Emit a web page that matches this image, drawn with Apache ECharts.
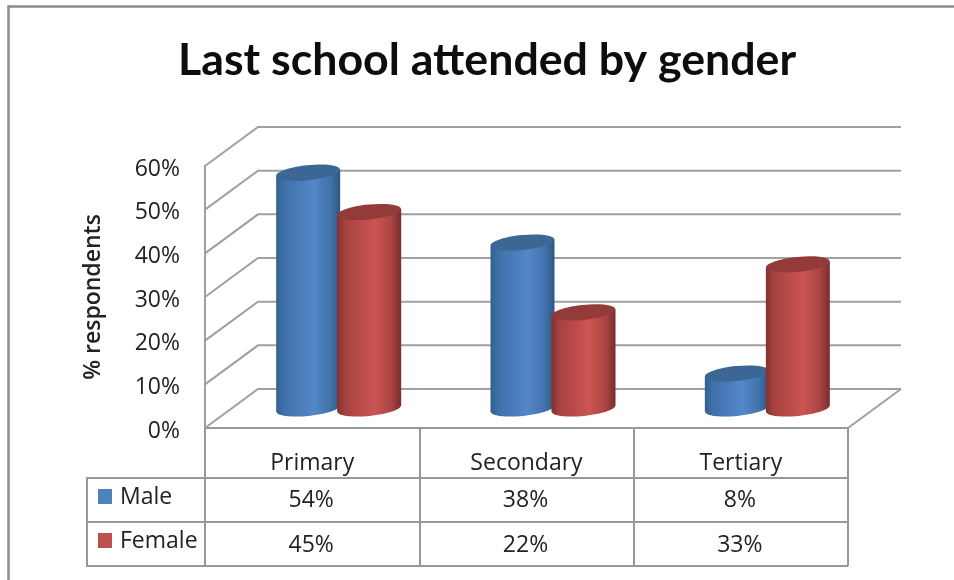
<!DOCTYPE html>
<html><head><meta charset="utf-8">
<style>html,body{margin:0;padding:0;background:#fff}#c{width:954px;height:580px}</style>
<script src="https://cdn.jsdelivr.net/npm/echarts@6/dist/echarts.min.js"></script>
</head><body><div id="c"></div>
<script>
var categories = ['Primary', 'Secondary', 'Tertiary'];
var male = [54, 38, 8];
var female = [45, 22, 33];
var yTicks = [0, 10, 20, 30, 40, 50, 60];

var chart = echarts.init(document.getElementById('c'), null, {renderer: 'canvas'});
var TITLE_FONT = 'Lato';
var FONT = 'Open Sans';
var LINE = '#a0a0a0';
var TABLE = '#989898';
var DX = 53, DY = 39;       // depth of the 3D box
var RX = 32, RY = 7.5, TILT = 0.1;

function grad(stops) {
  return {type: 'linear', x: 0, y: 0, x2: 1, y2: 0,
    colorStops: stops.map(function (s) { return {offset: s[0], color: s[1]}; })};
}
var BLUE = {body: grad([[0, '#33608f'], [0.12, '#3f70a9'], [0.58, '#5487c9'], [0.85, '#4272ab'], [1, '#2e5684']]), top: '#3c6794'};
var RED = {body: grad([[0, '#83312f'], [0.12, '#a54140'], [0.58, '#cc5553'], [0.85, '#a94442'], [1, '#782d2b']]), top: '#933b39'};

function cylinder(skin, side, rowY) {
  return function (params, api) {
    var cat = api.value(0), val = api.value(1);
    var base = api.coord([cat, 0]);
    var top = api.coord([cat, val]);
    var cx = base[0] + DX / 2 + side * 30.5;
    var by = base[1] - DY / 2, ty = top[1] - DY / 2;
    var children = [
      {type: 'ellipse', shape: {cx: cx, cy: by, rx: RX, ry: RY}, originX: cx, originY: by, rotation: TILT, style: {fill: skin.body}},
      {type: 'polygon', shape: {points: [[cx - RX, ty + 3], [cx + RX, ty - 3], [cx + RX, by - 3], [cx - RX, by + 3]]}, style: {fill: skin.body}},
      {type: 'ellipse', shape: {cx: cx, cy: ty, rx: RX, ry: RY}, originX: cx, originY: ty, rotation: TILT, style: {fill: skin.top}},
      {type: 'text', x: base[0] - 1, y: rowY, style: {text: val + '%', fill: '#222', font: '23px "' + FONT + '"', align: 'center', verticalAlign: 'middle'}}
    ];
    return {type: 'group', children: children};
  };
}

function wall(params, api) {
  var v = api.value(0);
  var l = api.coord([0, v]);
  var xL = params.coordSys.x, xR = xL + params.coordSys.width, y = l[1];
  var seg = [
    {type: 'polyline', shape: {points: [[xL, y], [xL + DX, y - DY], [xR + DX, y - DY]]}, style: {stroke: LINE, lineWidth: 2, fill: null}}
  ];
  if (v === 0) {
    seg.push({type: 'line', shape: {x1: xR, y1: y, x2: xR + DX, y2: y - DY}, style: {stroke: LINE, lineWidth: 2}});
  }
  return {type: 'group', children: seg};
}

function pair(arr) { return arr.map(function (v, i) { return [i, v]; }); }

chart.setOption({
  animation: false,
  backgroundColor: '#fff',
  title: {text: 'Last school attended by gender', left: 178, top: 38, padding: 0,
    textStyle: {fontFamily: TITLE_FONT, fontWeight: 'bold', fontSize: 44.7, color: '#0d0d0d'}},
  legend: {orient: 'vertical', left: 98, top: 486, itemWidth: 14, itemHeight: 15, itemGap: 21, icon: 'rect',
    data: ['Male', 'Female'], selectedMode: false, itemStyle: {borderWidth: 0},
    formatter: '{t|{name}}',
    textStyle: {rich: {t: {fontFamily: FONT, fontSize: 23, color: '#222', padding: [2, 0, 0, 3]}}}, padding: 0},
  grid: {left: 205, right: 106, top: 166, bottom: 152, containLabel: false},
  xAxis: {type: 'category', data: categories, boundaryGap: true,
    axisLine: {lineStyle: {color: TABLE, width: 2}},
    axisTick: {show: true, length: 138, lineStyle: {color: TABLE, width: 2}, alignWithLabel: false},
    axisLabel: {margin: 24, fontFamily: FONT, fontSize: 23, color: '#222'}},
  yAxis: {type: 'value', min: 0, max: 60, interval: 10, name: '% respondents', nameLocation: 'middle', nameGap: 100,
    nameTextStyle: {fontFamily: FONT, fontSize: 23, fontWeight: 600, color: '#222'},
    axisLine: {show: true, lineStyle: {color: LINE, width: 2}},
    axisTick: {show: false},
    splitLine: {show: false},
    axisLabel: {margin: 25, formatter: '{t|{value}%}',
      rich: {t: {fontFamily: FONT, fontSize: 23, color: '#222', padding: [6, 0, 0, 0]}}}},
  series: [
    {type: 'custom', name: 'wall', data: yTicks.map(function (v) { return [v]; }), renderItem: wall, clip: false, encode: {y: 0}, silent: true, z: 1},
    {type: 'custom', name: 'Male', itemStyle: {color: '#4f81bd'}, data: pair(male), encode: {x: 0, y: 1}, renderItem: cylinder(BLUE, -1, 500), clip: false, z: 3},
    {type: 'custom', name: 'Female', itemStyle: {color: '#c0504d'}, data: pair(female), encode: {x: 0, y: 1}, renderItem: cylinder(RED, 1, 545), clip: false, z: 4}
  ],
  graphic: [
    {type: 'polyline', shape: {points: [[8.5, 580], [8.5, 6.5], [954, 6.5]]}, style: {stroke: '#8c8c8c', lineWidth: 2.5, fill: null}},
    {type: 'polyline', shape: {points: [[848, 478], [87, 478], [87, 566], [848, 566]]}, style: {stroke: TABLE, lineWidth: 2, fill: null}},
    {type: 'line', shape: {x1: 87, y1: 522, x2: 848, y2: 522}, style: {stroke: TABLE, lineWidth: 2}}
  ]
});
</script></body></html>
